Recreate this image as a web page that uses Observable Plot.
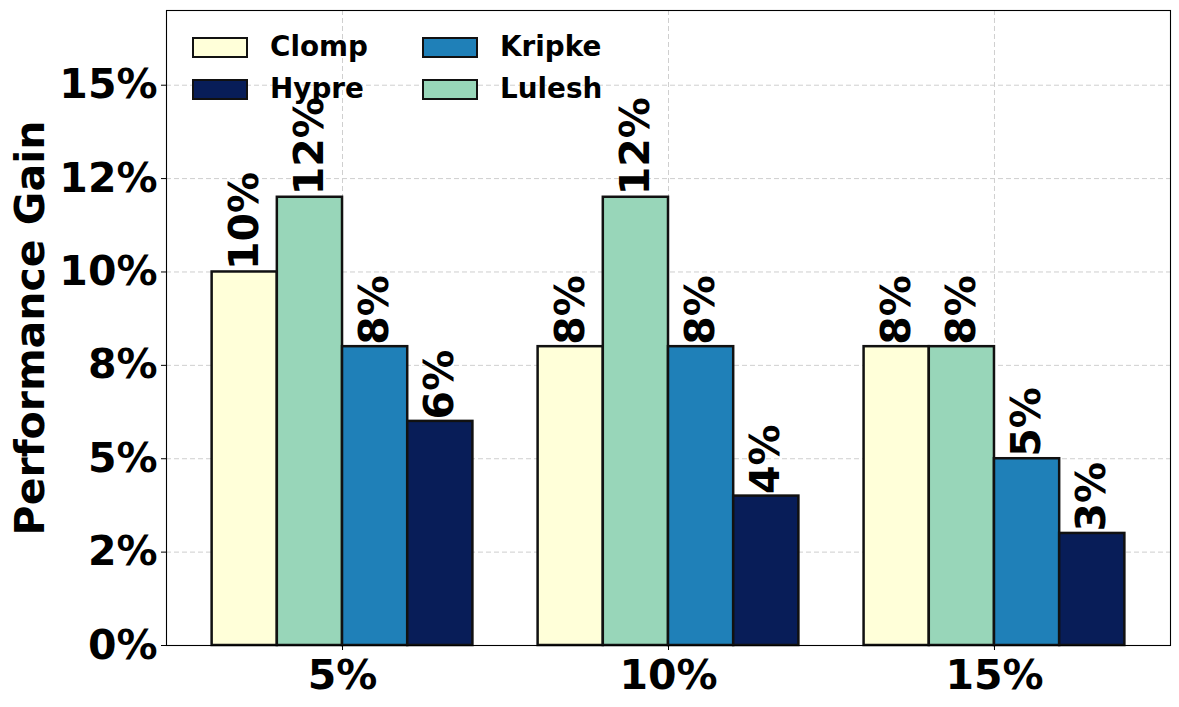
<!DOCTYPE html>
<html>
<head>
<meta charset="utf-8">
<script src="https://cdn.jsdelivr.net/npm/d3@7"></script>
<script src="https://cdn.jsdelivr.net/npm/@observablehq/plot@0.6"></script>
<style>
  html, body { margin: 0; padding: 0; background: #fff; overflow: hidden; }
  #wrap { position: relative; width: 1179px; height: 707px; font-family: "DejaVu Sans", sans-serif; }
  #legend { position: absolute; left: 192px; top: 36px; display: grid; grid-template-columns: 230px auto; grid-auto-flow: column; grid-template-rows: 22px 22px; row-gap: 20px; }
  .item { display: flex; align-items: center; height: 22px; }
  .patch { width: 56px; height: 21px; box-sizing: border-box; border: 2.5px solid #111; margin-right: 22px; }
  .lab { font-size: 27.8px; font-weight: bold; color: #000; line-height: 1; }
</style>
</head>
<body>
<div id="wrap"><div id="legend"></div></div>
<script>
// ---- data ----
const groups = ["5%", "10%", "15%"];
const series = ["Clomp", "Lulesh", "Kripke", "Hypre"];
const clomp  = [10, 8, 8];
const lulesh = [12, 12, 8];
const kripke = [8, 8, 5];
const hypre  = [6, 4, 3];
const seriesColors = ["#ffffd9", "#98d6b9", "#1f80b8", "#081d58"];
const legendOrder = ["Clomp", "Hypre", "Kripke", "Lulesh"];
const yTicks = [0, 2.5, 5, 7.5, 10, 12.5, 15];
const yTickLabels = ["0%", "2%", "5%", "8%", "10%", "12%", "15%"];
const yLabel = "Performance Gain";

const valuesBySeries = [clomp, lulesh, kripke, hypre];
const barW = 0.2;
const rows = [];
groups.forEach((g, gi) => {
  series.forEach((s, si) => {
    const c = gi + (si - (series.length - 1) / 2) * barW;
    rows.push({group: g, series: s, value: valuesBySeries[si][gi],
      x1: c - barW / 2, x2: c + barW / 2, xc: c, color: seriesColors[si]});
  });
});
const half = series.length * barW / 2;
const span = (groups.length - 1) + 2 * half;
const xDomain = [-half - 0.05 * span, groups.length - 1 + half + 0.05 * span];

const FS = 41;
const chart = Plot.plot({
  width: 1179,
  height: 707,
  marginLeft: 166,
  marginRight: 9,
  marginTop: 10,
  marginBottom: 62,
  style: {fontFamily: "DejaVu Sans", fontWeight: "bold", background: "white", color: "black"},
  x: {type: "linear", domain: xDomain},
  y: {domain: [0, 17]},
  color: {type: "identity"},
  marks: [
    Plot.gridY(yTicks, {stroke: "#cfcfcf", strokeOpacity: 1, strokeWidth: 1, strokeDasharray: "5,3"}),
    Plot.gridX(d3.range(groups.length), {stroke: "#cfcfcf", strokeOpacity: 1, strokeWidth: 1, strokeDasharray: "5,3"}),
    Plot.rect(rows, {x1: "x1", x2: "x2", y1: 0, y2: "value", fill: "color", stroke: "#111", strokeWidth: 2.5}),
    Plot.text(rows, {x: "xc", y: "value", text: d => `${Math.round(d.value)}%`, rotate: -90,
      textAnchor: "start", lineAnchor: "middle", dy: -2, fontSize: FS, fontWeight: "bold", fill: "black"}),
    Plot.frame({stroke: "black", strokeWidth: 1.1}),
    Plot.axisY(yTicks, {tickFormat: (d, i) => yTickLabels[yTicks.indexOf(d)], tickSize: 5, tickPadding: 4,
      fontSize: FS, fontWeight: "bold", label: null}),
    Plot.axisX(d3.range(groups.length), {tickFormat: d => groups[d], tickSize: 5, tickPadding: 9,
      fontSize: FS, fontWeight: "bold", label: null}),
    Plot.text([yLabel], {frameAnchor: "left", dx: -136, rotate: -90, textAnchor: "middle",
      lineAnchor: "middle", fontSize: FS, fontWeight: "bold", fill: "black"})
  ]
});
document.getElementById("wrap").prepend(chart);

const legend = document.getElementById("legend");
legendOrder.forEach(name => {
  const item = document.createElement("div");
  item.className = "item";
  const p = document.createElement("div");
  p.className = "patch";
  p.style.background = seriesColors[series.indexOf(name)];
  const t = document.createElement("span");
  t.className = "lab";
  t.textContent = name;
  item.appendChild(p);
  item.appendChild(t);
  legend.appendChild(item);
});
</script>
</body>
</html>
